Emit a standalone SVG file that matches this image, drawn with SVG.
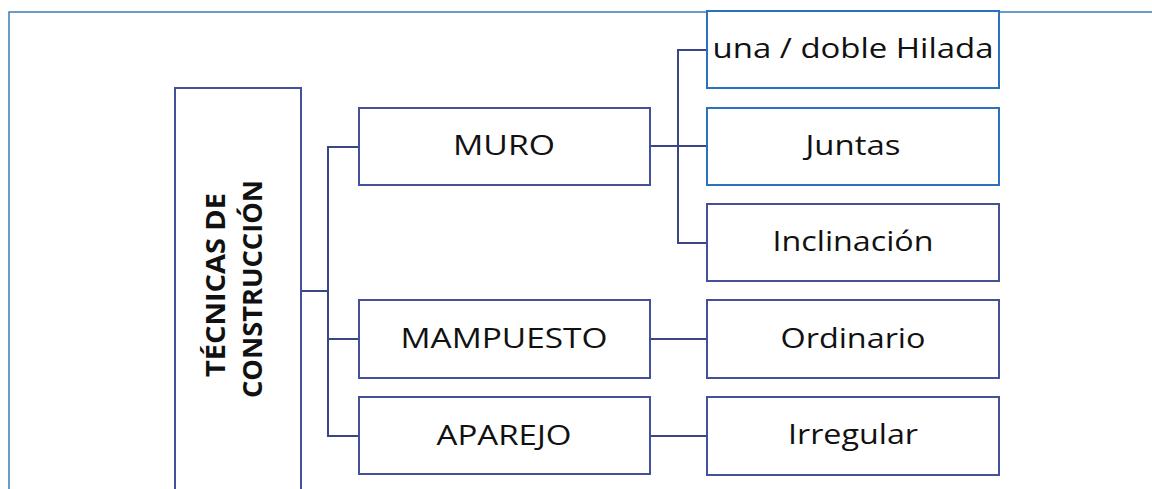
<svg xmlns="http://www.w3.org/2000/svg" width="1152" height="489" viewBox="0 0 1152 489">
<style>
  .box { fill: #ffffff; stroke: #44509c; stroke-width: 2; }
  .boxb { fill: #ffffff; stroke: #2a72c0; stroke-width: 2; }
  .lbl { font-family: "Open Sans", "Liberation Sans", sans-serif; font-size: 27px; fill: #111111; text-anchor: middle; }
  .root { font-family: "Open Sans", "Liberation Sans", sans-serif; font-size: 27px; font-weight: bold; fill: #111111; text-anchor: middle; }
  .conn { fill: none; stroke: #3a4684; stroke-width: 2; }
  .frame { fill: none; stroke: #3b7cb8; stroke-width: 1.5; }
</style>
<rect width="1152" height="489" fill="#ffffff"/>
<path class="frame" d="M9,489 V12 H1152"/>
<g id="connectors">
  <path class="conn" d="M301,291 H328"/>
  <path class="conn" d="M359,147 H328 V436 H359"/>
  <path class="conn" d="M328,339 H359"/>
  <path class="conn" d="M650,146 H707"/>
  <path class="conn" d="M707,50 H678 V243 H707"/>
  <path class="conn" d="M650,339 H707"/>
  <path class="conn" d="M650,436 H707"/>
</g>
<g id="root">
  <rect class="box" x="175" y="88" width="126" height="410"/>
  <text class="root" transform="translate(225,285) rotate(-90)" x="0" y="0" textLength="184" lengthAdjust="spacingAndGlyphs">TÉCNICAS DE</text>
  <text class="root" transform="translate(262,289) rotate(-90)" x="0" y="0" textLength="218" lengthAdjust="spacingAndGlyphs">CONSTRUCCIÓN</text>
</g>
<g id="muro">
  <rect class="box" x="359" y="108" width="291" height="77"/>
  <text class="lbl" x="504" y="155" textLength="102" lengthAdjust="spacingAndGlyphs">MURO</text>
</g>
<g id="mampuesto">
  <rect class="box" x="359" y="300" width="291" height="78"/>
  <text class="lbl" x="504" y="348" textLength="207" lengthAdjust="spacingAndGlyphs">MAMPUESTO</text>
</g>
<g id="aparejo">
  <rect class="box" x="359" y="397" width="291" height="77"/>
  <text class="lbl" x="504" y="445" textLength="135" lengthAdjust="spacingAndGlyphs">APAREJO</text>
</g>
<g id="hilada">
  <rect class="boxb" x="707" y="11" width="292" height="77"/>
  <text class="lbl" x="853" y="58" textLength="281" lengthAdjust="spacingAndGlyphs">una / doble Hilada</text>
</g>
<g id="juntas">
  <rect class="boxb" x="707" y="108" width="292" height="77"/>
  <text class="lbl" x="853" y="155" textLength="95" lengthAdjust="spacingAndGlyphs">Juntas</text>
</g>
<g id="inclinacion">
  <rect class="box" x="707" y="204" width="292" height="77"/>
  <text class="lbl" x="853" y="251" textLength="161" lengthAdjust="spacingAndGlyphs">Inclinación</text>
</g>
<g id="ordinario">
  <rect class="box" x="707" y="300" width="292" height="78"/>
  <text class="lbl" x="853" y="348" textLength="145" lengthAdjust="spacingAndGlyphs">Ordinario</text>
</g>
<g id="irregular">
  <rect class="box" x="707" y="397" width="292" height="78"/>
  <text class="lbl" x="853" y="444" textLength="130" lengthAdjust="spacingAndGlyphs">Irregular</text>
</g>
</svg>
